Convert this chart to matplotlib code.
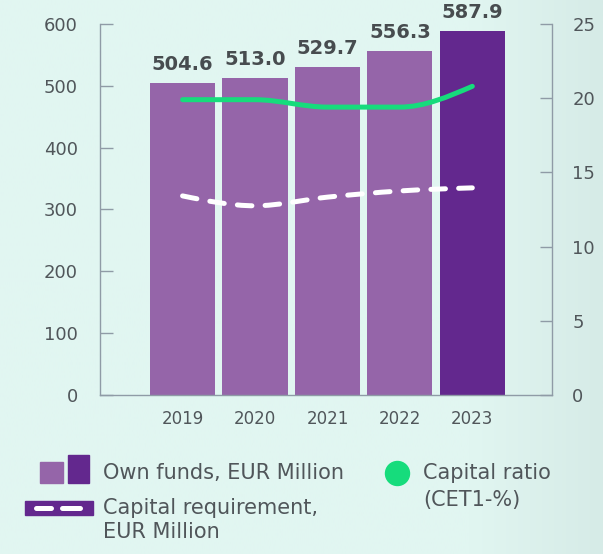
import matplotlib
matplotlib.use("Agg")
import matplotlib.pyplot as plt
import numpy as np
from matplotlib.path import Path
from matplotlib.patches import PathPatch, Rectangle, Circle

# figures
years = ["2019", "2020", "2021", "2022", "2023"]
own_funds = [504.6, 513.0, 529.7, 556.3, 587.9]          # EUR million
capital_requirement = [322, 306, 320, 330, 335]          # EUR million
capital_ratio = [19.9, 19.9, 19.4, 19.4, 20.8]           # CET1 %
left_ticks = [0, 100, 200, 300, 400, 500, 600]
right_ticks = [0, 5, 10, 15, 20, 25]

BG = "#e1f6f1"
LIGHT = "#9565a9"
DARK = "#63288e"
GREEN = "#16dc7c"
TEXT = "#50565a"
AXIS = "#8f9ba6"

plt.rcParams["font.family"] = ["DejaVu Sans"]
plt.rcParams["lines.scale_dashes"] = False


def monotone_path(x, y):
    # smooth monotone-x cubic through the points
    x = np.asarray(x, float)
    y = np.asarray(y, float)
    h = np.diff(x)
    s = np.diff(y) / h
    n = len(x)
    t = np.zeros(n)
    for i in range(1, n - 1):
        p = (s[i - 1] * h[i] + s[i] * h[i - 1]) / (h[i - 1] + h[i])
        t[i] = (np.sign(s[i - 1]) + np.sign(s[i])) * min(abs(s[i - 1]), abs(s[i]), 0.5 * abs(p))
    t[0] = (3 * s[0] - t[1]) / 2
    t[-1] = (3 * s[-1] - t[-2]) / 2
    verts = [(x[0], y[0])]
    codes = [Path.MOVETO]
    for i in range(n - 1):
        d = h[i] / 3
        verts += [(x[i] + d, y[i] + d * t[i]), (x[i + 1] - d, y[i + 1] - d * t[i + 1]), (x[i + 1], y[i + 1])]
        codes += [Path.CURVE4] * 3
    return Path(verts, codes)


W, H = 603, 554
fig = plt.figure(figsize=(W / 100, H / 100), dpi=100)
fig.patch.set_facecolor(BG)

# soft background tint towards the right edge
bg = fig.add_axes([0, 0, 1, 1], zorder=-10)
grad = np.linspace(0, 1, 300)
grad = np.clip((grad - 0.78) / 0.22, 0, 1)[None, :]
c0 = np.array([0xe1, 0xf6, 0xf1]) / 255
c1 = np.array([0xd6, 0xeb, 0xe7]) / 255
img = c0[None, None, :] * (1 - grad[..., None]) + c1[None, None, :] * grad[..., None]
bg.imshow(img, aspect="auto", extent=[0, 1, 0, 1])
bg.axis("off")

ax = fig.add_axes([100 / W, 1 - 395 / H, 452 / W, 371 / H])
ax.set_facecolor("none")
x = np.arange(len(years))
colors = [LIGHT] * (len(years) - 1) + [DARK]
ax.bar(x, own_funds, width=0.9, color=colors, zorder=2)
for xi, v in zip(x, own_funds):
    ax.annotate(f"{v:.1f}", (xi, v), xytext=(0, 9.5), textcoords="offset points",
                ha="center", va="baseline", fontsize=14, fontweight="bold", color="#474c4f")

ax.set_xlim(-1.14, 5.1)
ax.set_ylim(0, 600)
ax.set_xticks(x)
ax.set_xticklabels(years)
ax.set_yticks(left_ticks)
ax.tick_params(axis="x", length=0, pad=11, labelsize=12, labelcolor=TEXT)
ax.tick_params(axis="y", direction="in", length=9.5, width=1, color=AXIS,
               pad=16, labelsize=13, labelcolor=TEXT)
for side in ["left", "bottom"]:
    ax.spines[side].set_color(AXIS)
    ax.spines[side].set_linewidth(1)
ax.spines["top"].set_visible(False)
ax.spines["right"].set_visible(False)

# capital requirement on the EUR scale
ax.add_patch(PathPatch(monotone_path(x, capital_requirement), fill=False, edgecolor="white",
                       linewidth=3.6, linestyle=(0, (10.5, 9.5)), capstyle="round", zorder=4))

ax2 = ax.twinx()
ax2.set_ylim(0, 25)
ax2.set_yticks(right_ticks)
ax2.tick_params(axis="y", direction="in", length=9, width=1, color=AXIS,
                pad=14.5, labelsize=13, labelcolor=TEXT)
ax2.spines["right"].set_color(AXIS)
ax2.spines["right"].set_linewidth(1)
for side in ["top", "left", "bottom"]:
    ax2.spines[side].set_visible(False)
ax2.add_patch(PathPatch(monotone_path(x, capital_ratio), fill=False, edgecolor=GREEN,
                        linewidth=3.6, capstyle="round", joinstyle="round", zorder=5))

# legend in pixel space
lg = fig.add_axes([0, 0, 1, 1], zorder=5)
lg.set_xlim(0, W)
lg.set_ylim(H, 0)
lg.axis("off")
lg.add_patch(Rectangle((40, 462), 23, 21, color=LIGHT))
lg.add_patch(Rectangle((68, 455), 21, 28, color=DARK))
lg.text(103, 479, "Own funds, EUR Million", fontsize=15, color=TEXT, va="baseline")

lg.add_patch(Rectangle((25, 501), 68, 14, color=DARK))
lg.plot([36, 51], [508, 508], color="white", lw=3.6, solid_capstyle="round")
lg.plot([62, 80], [508, 508], color="white", lw=3.6, solid_capstyle="round")
lg.text(103, 514, "Capital requirement,", fontsize=15, color=TEXT, va="baseline")
lg.text(103, 538, "EUR Million", fontsize=15, color=TEXT, va="baseline")

lg.add_patch(Circle((397.5, 473.5), 12, color=GREEN))
lg.text(423, 479, "Capital ratio", fontsize=15, color=TEXT, va="baseline")
lg.text(423, 506, "(CET1-%)", fontsize=15, color=TEXT, va="baseline")

fig.savefig("out.png", dpi=100, facecolor=BG)
